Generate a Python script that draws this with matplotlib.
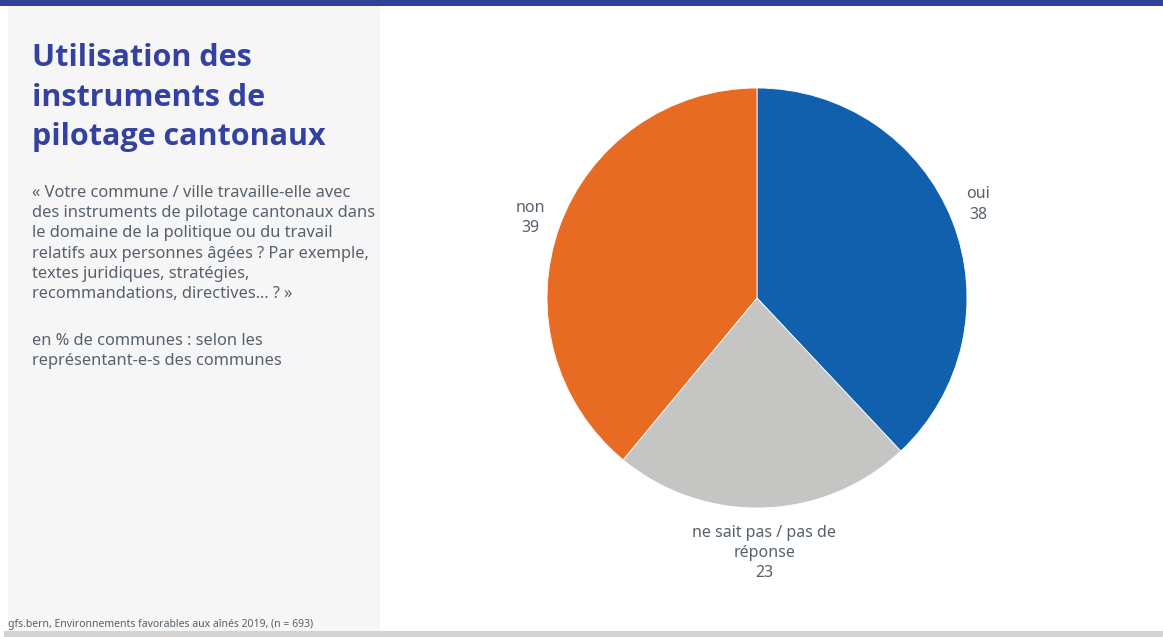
import matplotlib
matplotlib.use("Agg")
import matplotlib.pyplot as plt
from matplotlib.patches import Rectangle
import numpy as np

categories = ["oui", "ne sait pas / pas de\nréponse", "non"]
values = [38, 23, 39]
colors = ["#1060ae", "#c5c5c3", "#e86b24"]

title = "Utilisation des\ninstruments de\npilotage cantonaux"
question = ("« Votre commune / ville travaille-elle avec\n"
            "des instruments de pilotage cantonaux dans\n"
            "le domaine de la politique ou du travail\n"
            "relatifs aux personnes âgées ? Par exemple,\n"
            "textes juridiques, stratégies,\n"
            "recommandations, directives… ? »")
subtitle = "en % de communes : selon les\nreprésentant-e-s des communes"
source = "gfs.bern, Environnements favorables aux aînés 2019, (n = 693)"

W, H = 1163, 637
fig = plt.figure(figsize=(W / 100, H / 100), dpi=100)
fig.patch.set_facecolor("white")

def fx(x):
    return x / W

def fy(y):
    return 1 - y / H

# background elements
fig.patches.append(Rectangle((fx(8), fy(631)), fx(380) - fx(8), fy(5) - fy(631),
                             transform=fig.transFigure, facecolor="#f6f6f6", edgecolor="none", zorder=0))
fig.patches.append(Rectangle((0, fy(6)), 1, fy(0) - fy(6),
                             transform=fig.transFigure, facecolor="#32409c", edgecolor="none", zorder=1))
fig.patches.append(Rectangle((fx(4), 0), 1, fy(631),
                             transform=fig.transFigure, facecolor="#d2d3d2", edgecolor="none", zorder=1))

font = ["Noto Sans", "DejaVu Sans"]
txtc = "#56616c"

fig.text(fx(32), fy(43), title, fontsize=22, fontweight="bold", color="#3441a0",
         family=["Open Sans", "DejaVu Sans"], va="top", ha="left", linespacing=1.42)
fig.text(fx(32), fy(185), question, fontsize=11.8, color=txtc,
         family=font, va="top", ha="left", linespacing=1.35)
fig.text(fx(32), fy(333), subtitle, fontsize=11.8, color=txtc,
         family=font, va="top", ha="left", linespacing=1.35)
fig.text(fx(8), fy(624), source, fontsize=7.5, color=txtc,
         family=["Liberation Sans Narrow", "Noto Sans", "DejaVu Sans"], va="center", ha="left")

# pie
cx, cy, r = 757, 298, 210
ax = fig.add_axes([fx(cx - r), fy(cy + r), 2 * r / W, 2 * r / H])
wedges, _ = ax.pie(values, colors=colors, startangle=90, counterclock=False, radius=1,
                   wedgeprops=dict(linewidth=0.6, edgecolor="white"))
ax.set_xlim(-1, 1)
ax.set_ylim(-1, 1)
ax.axis("off")
for w, cat, v in zip(wedges, categories, values):
    ang = np.deg2rad((w.theta1 + w.theta2) / 2)
    x, y = 1.1 * np.cos(ang), 1.1 * np.sin(ang)
    if abs(x) < 0.2:
        ha = "center"
        va = "top"
        y = y + 0.02
    else:
        ha = "center"
        va = "center"
        x = x + (0.03 if x > 0 else -0.045)
        y = y + (0.04 if x > 0 else 0.01)
    ax.text(x, y, f"{cat}\n{v}", ha=ha, va=va, fontsize=11.5, color=txtc,
            family=font, linespacing=1.35, clip_on=False)

fig.savefig("out.png", dpi=100, facecolor="white")
